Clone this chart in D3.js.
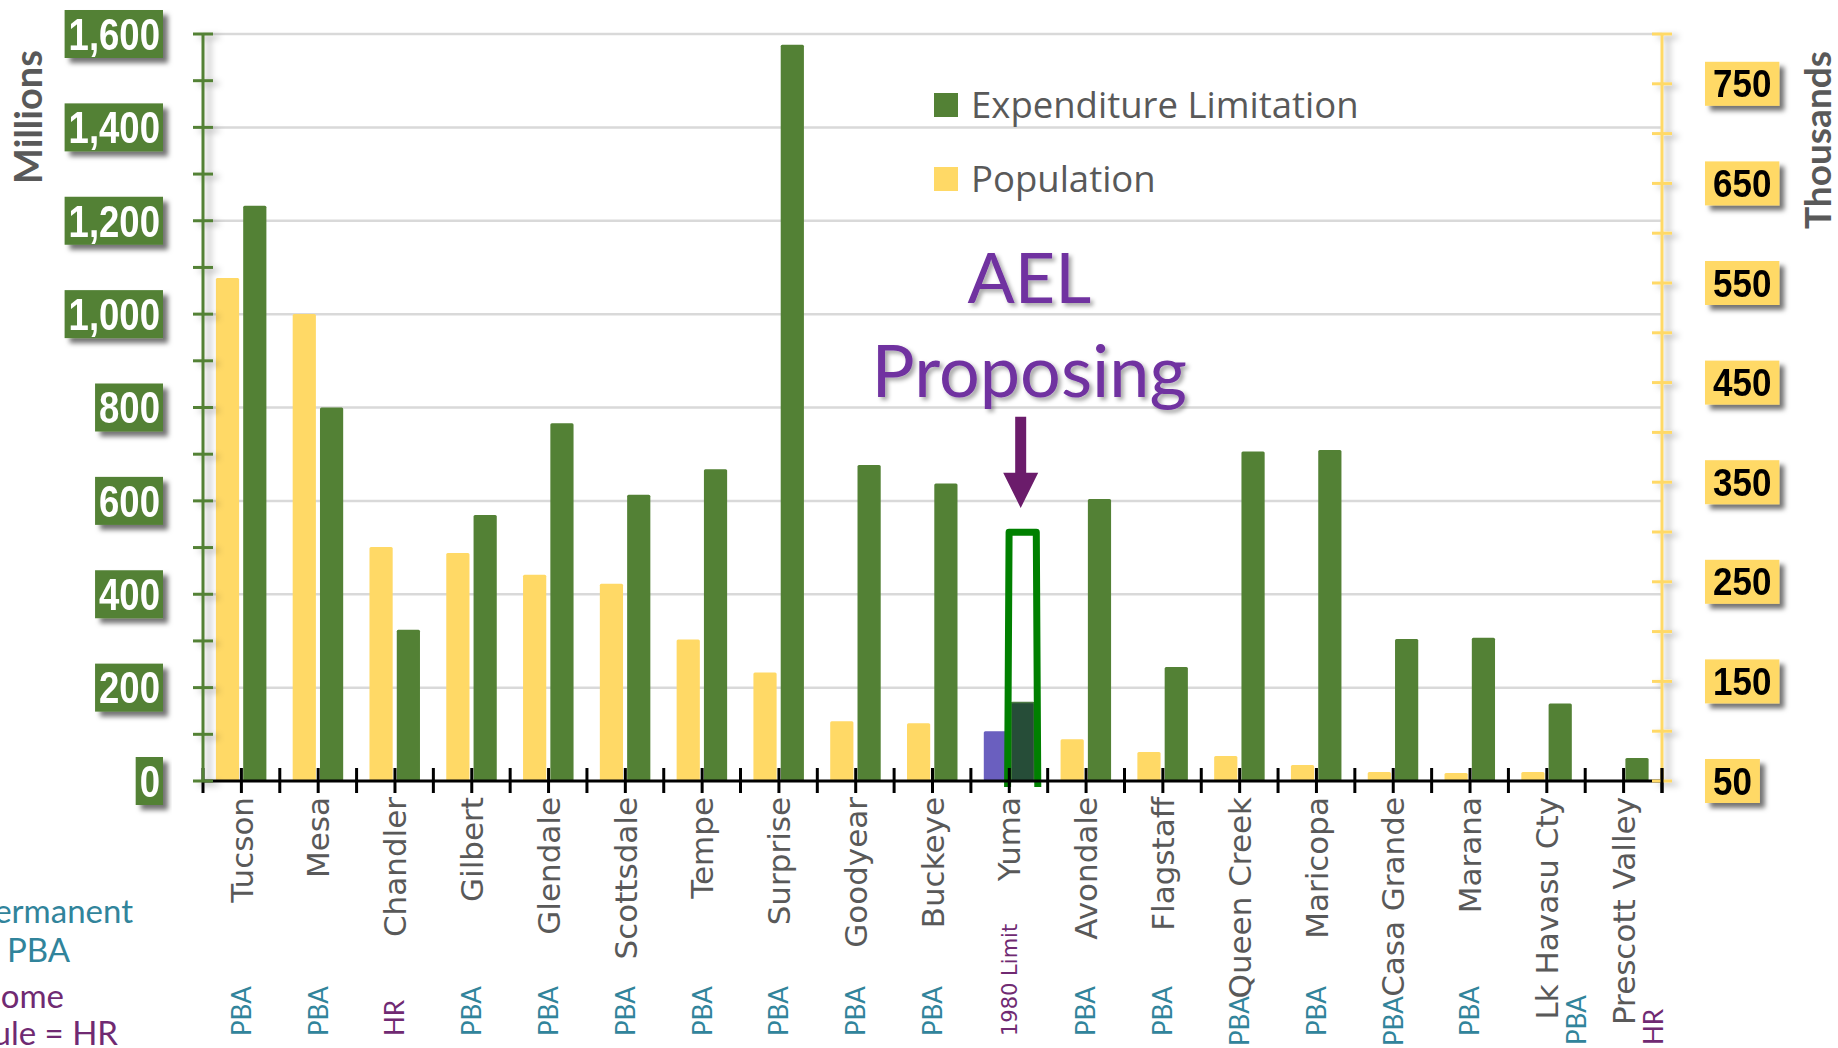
<!DOCTYPE html>
<html>
<head>
<meta charset="utf-8">
<script src="https://cdn.jsdelivr.net/npm/d3@7"></script>
<style>
  body { margin: 0; background: #fff; }
  svg { display: block; }
</style>
</head>
<body>
<svg id="chart" width="1838" height="1048"></svg>
<script>
'use strict';

// city order as on the chart
var cities = ['Tucson', 'Mesa', 'Chandler', 'Gilbert', 'Glendale', 'Scottsdale', 'Tempe',
  'Surprise', 'Goodyear', 'Buckeye', 'Yuma', 'Avondale', 'Flagstaff', 'Queen Creek',
  'Maricopa', 'Casa Grande', 'Marana', 'Lk Havasu Cty', 'Prescott Valley'];

// expenditure limitation, millions (left axis)
var expenditure = [1232, 800, 324, 570, 766, 613, 668, 1577, 677, 637, 168, 604, 244, 706,
  709, 304, 307, 166, 49];

// population, thousands (right axis)
var population = [555, 519, 285, 279, 257, 248, 192, 159, 110, 108, 100, 92, 79, 75,
  66, 59, 58, 59, 50];

// limit type shown under each city
var limitType = ['PBA', 'PBA', 'HR', 'PBA', 'PBA', 'PBA', 'PBA', 'PBA', 'PBA', 'PBA',
  '1980 Limit', 'PBA', 'PBA', 'PBA', 'PBA', 'PBA', 'PBA', 'PBA', 'HR'];

var proposedCity = 'Yuma';
var proposedLimit = 533;

var leftTicks = [0, 200, 400, 600, 800, 1000, 1200, 1400, 1600];
var rightTicks = [50, 150, 250, 350, 450, 550, 650, 750];

(function() {
  var GREEN = '#538135', YELLOW = '#ffd966', GREY = '#595959',
      TEAL = '#31849b', PURPLE = '#702a72';

  var svg = d3.select('#chart');
  var plotLeft = 203, plotRight = 1662, plotTop = 34, base = 781;

  var x = d3.scaleBand().domain(cities).range([plotLeft, plotRight]);
  var series = d3.scaleBand().domain(['pop', 'exp']).range([-25.5, 25]).paddingInner(0.15);
  var yLeft = d3.scaleLinear().domain([0, 1600]).range([base, plotTop]);
  var yRight = d3.scaleLinear().domain([50, 800]).range([base, plotTop]);

  function center(d) { return x(d) + x.bandwidth() / 2; }

  var defs = svg.append('defs');
  defs.append('filter').attr('id', 'boxShadow').attr('x', '-20%').attr('y', '-20%')
      .attr('width', '150%').attr('height', '160%')
    .append('feDropShadow').attr('dx', 5).attr('dy', 5).attr('stdDeviation', 2.5)
      .attr('flood-color', '#000').attr('flood-opacity', 0.55);
  defs.append('filter').attr('id', 'axisShadow').attr('x', '-50%').attr('y', '-5%')
      .attr('width', '300%').attr('height', '110%')
    .append('feDropShadow').attr('dx', 6).attr('dy', 3).attr('stdDeviation', 3)
      .attr('flood-color', '#000').attr('flood-opacity', 0.3);
  defs.append('filter').attr('id', 'textShadow')
    .append('feDropShadow').attr('dx', 3).attr('dy', 3).attr('stdDeviation', 2)
      .attr('flood-color', '#000').attr('flood-opacity', 0.35);

  // gridlines
  svg.append('g').attr('class', 'grid')
    .selectAll('line').data(leftTicks.slice(1))
    .enter().append('line')
      .attr('x1', plotLeft).attr('x2', plotRight)
      .attr('y1', function(d) { return yLeft(d); })
      .attr('y2', function(d) { return yLeft(d); })
      .attr('stroke', '#d9d9d9').attr('stroke-width', 2.5);

  // bars
  var gBars = svg.append('g').attr('class', 'bars');
  gBars.selectAll('rect.pop').data(cities)
    .enter().append('rect').attr('class', 'pop')
      .attr('x', function(d) { return center(d) + series('pop'); })
      .attr('width', series.bandwidth())
      .attr('y', function(d, i) { return yRight(population[i]); })
      .attr('height', function(d, i) { return base - yRight(population[i]); })
      .attr('rx', 1.5)
      .attr('fill', function(d) { return d === proposedCity ? '#6a5fbf' : YELLOW; });

  gBars.selectAll('rect.exp').data(cities)
    .enter().append('rect').attr('class', 'exp')
      .attr('x', function(d) { return center(d) + series('exp'); })
      .attr('width', series.bandwidth())
      .attr('y', function(d, i) { return yLeft(expenditure[i]); })
      .attr('height', function(d, i) { return base - yLeft(expenditure[i]); })
      .attr('rx', 1.5)
      .attr('fill', function(d) { return d === proposedCity ? '#264d38' : GREEN; })
      .attr('stroke', function(d) { return d === proposedCity ? '#4d7a45' : 'none'; })
      .attr('stroke-width', 1.5);

  // proposed limit outline around Yuma
  var px0 = center(proposedCity) + series('exp') - 3.5,
      px1 = center(proposedCity) + series('exp') + series.bandwidth() + 3.5,
      pTop = yLeft(proposedLimit);
  svg.append('path')
    .attr('d', 'M' + px0 + ',' + (base + 6) + 'L' + (px0 + 1.5) + ',' + pTop +
               'L' + (px1 - 1.5) + ',' + pTop + 'L' + px1 + ',' + (base + 6))
    .attr('fill', 'none').attr('stroke', '#008000').attr('stroke-width', 7)
    .attr('stroke-linejoin', 'round');

  // x axis with ticks at edges and centers of each band
  var xTicks = [];
  cities.forEach(function(c) { xTicks.push(x(c), center(c)); });
  xTicks.push(plotRight);
  var gX = svg.append('g').attr('class', 'x-axis');
  gX.append('line').attr('x1', plotLeft).attr('x2', plotRight).attr('y1', base).attr('y2', base)
    .attr('stroke', '#000').attr('stroke-width', 3);
  gX.selectAll('line.tick').data(xTicks)
    .enter().append('line').attr('class', 'tick')
      .attr('x1', function(d) { return d; }).attr('x2', function(d) { return d; })
      .attr('y1', base - 13).attr('y2', base + 12)
      .attr('stroke', '#000').attr('stroke-width', 3);

  // left axis
  var gL = svg.append('g').attr('filter', 'url(#axisShadow)');
  gL.append('line').attr('x1', plotLeft).attr('x2', plotLeft).attr('y1', plotTop).attr('y2', base)
    .attr('stroke', GREEN).attr('stroke-width', 3);
  gL.selectAll('line.tick').data(d3.range(0, 1601, 100))
    .enter().append('line').attr('class', 'tick')
      .attr('x1', plotLeft - 10).attr('x2', plotLeft + 10)
      .attr('y1', function(d) { return yLeft(d); })
      .attr('y2', function(d) { return yLeft(d); })
      .attr('stroke', GREEN).attr('stroke-width', 3);

  // right axis
  var gR = svg.append('g').attr('filter', 'url(#axisShadow)');
  gR.append('line').attr('x1', plotRight).attr('x2', plotRight).attr('y1', plotTop).attr('y2', base)
    .attr('stroke', YELLOW).attr('stroke-width', 3);
  gR.selectAll('line.tick').data(d3.range(50, 801, 50))
    .enter().append('line').attr('class', 'tick')
      .attr('x1', plotRight - 10).attr('x2', plotRight + 10)
      .attr('y1', function(d) { return yRight(d); })
      .attr('y2', function(d) { return yRight(d); })
      .attr('stroke', YELLOW).attr('stroke-width', 3);
  svg.append('line').attr('x1', plotRight).attr('x2', plotRight)
    .attr('y1', base - 13).attr('y2', base + 12)
    .attr('stroke', '#000').attr('stroke-width', 3);

  // left tick labels in green boxes
  var fmt = d3.format(',');
  leftTicks.forEach(function(v) {
    var g = svg.append('g').attr('filter', 'url(#boxShadow)');
    var rect = g.append('rect').attr('fill', GREEN);
    var t = g.append('text').text(fmt(v))
      .attr('font-family', 'Liberation Sans, Arial, sans-serif')
      .attr('font-weight', 'bold').attr('font-size', 44).attr('fill', '#fff')
      .attr('text-anchor', 'end').attr('y', yLeft(v)).attr('dy', '0.36em');
    var w = t.node().getComputedTextLength() * 0.83;
    t.attr('textLength', w).attr('lengthAdjust', 'spacingAndGlyphs').attr('x', 160);
    rect.attr('x', 160 - w - 4).attr('width', w + 7)
      .attr('y', yLeft(v) - 24).attr('height', 48);
  });

  // right tick labels in yellow boxes
  rightTicks.forEach(function(v) {
    var g = svg.append('g').attr('filter', 'url(#boxShadow)');
    var rect = g.append('rect').attr('fill', YELLOW);
    var t = g.append('text').text(v)
      .attr('font-family', 'Liberation Sans, Arial, sans-serif')
      .attr('font-weight', 'bold').attr('font-size', 38).attr('fill', '#000')
      .attr('x', 1713).attr('y', yRight(v)).attr('dy', '0.36em');
    var w = t.node().getComputedTextLength() * 0.92;
    t.attr('textLength', w).attr('lengthAdjust', 'spacingAndGlyphs');
    rect.attr('x', 1705).attr('width', w + 16)
      .attr('y', yRight(v) - 22).attr('height', 44);
  });

  // axis titles
  svg.append('text').text('Millions')
    .attr('transform', 'translate(42,117) rotate(-90)')
    .attr('text-anchor', 'middle')
    .attr('font-family', 'Lato, sans-serif').attr('font-weight', 'bold')
    .attr('font-size', 38).attr('fill', GREY);
  svg.append('text').text('Thousands')
    .attr('transform', 'translate(1831,140) rotate(-90)')
    .attr('text-anchor', 'middle')
    .attr('font-family', 'Lato, sans-serif').attr('font-weight', 'bold')
    .attr('font-size', 37).attr('fill', GREY);

  // category names and limit type underneath
  var labelTop = 797, labelBottom = 1036;
  cities.forEach(function(c, i) {
    var cx = center(c);
    var name = svg.append('text').text(c)
      .attr('transform', 'translate(' + cx + ',' + labelTop + ') rotate(-90)')
      .attr('text-anchor', 'end').attr('dy', '0.36em')
      .attr('font-family', 'DejaVu Sans, sans-serif').attr('font-size', 31)
      .attr('fill', GREY);
    var nameEnd = labelTop + name.node().getComputedTextLength();

    var isYear = limitType[i] === '1980 Limit';
    var sub = svg.append('text').text(limitType[i])
      .attr('font-family', isYear ? 'DejaVu Sans, sans-serif' : 'Lato, sans-serif')
      .attr('font-size', isYear ? 21 : 26)
      .attr('fill', limitType[i] === 'PBA' ? TEAL : PURPLE)
      .attr('dy', '0.36em');
    var subLen = sub.node().getComputedTextLength();
    var sx = cx, sy = labelBottom;
    if (nameEnd > 1010) {
      sx = cx + 30;
      sy = 1045;
    } else if (nameEnd + 3 + subLen > labelBottom) {
      sy = Math.min(nameEnd + 3 + subLen, 1046);
    }
    sub.attr('transform', 'translate(' + sx + ',' + sy + ') rotate(-90)');
  });

  // legend
  var legend = svg.append('g').attr('class', 'legend');
  [['Expenditure Limitation', GREEN, 105], ['Population', YELLOW, 179]].forEach(function(l) {
    legend.append('rect').attr('x', 934).attr('y', l[2] - 12).attr('width', 24).attr('height', 24)
      .attr('fill', l[1]);
    legend.append('text').text(l[0]).attr('x', 971).attr('y', l[2]).attr('dy', '0.36em')
      .attr('font-family', 'Open Sans, sans-serif').attr('font-size', 36.5).attr('fill', GREY);
  });

  // annotation
  var ax = center(proposedCity) + 20;
  svg.append('text').text('AEL').attr('x', ax).attr('y', 303)
    .attr('text-anchor', 'middle').attr('font-family', 'Lato, sans-serif')
    .attr('font-size', 70).attr('fill', '#7030a0').attr('filter', 'url(#textShadow)');
  svg.append('text').text('Proposing').attr('x', ax).attr('y', 397)
    .attr('text-anchor', 'middle').attr('font-family', 'Lato, sans-serif')
    .attr('font-size', 72).attr('fill', '#7030a0').attr('filter', 'url(#textShadow)');

  var arX = center(proposedCity) + series('exp') + series.bandwidth() / 2 - 2,
      arTop = yLeft(780), arTip = yLeft(585), arNeck = yLeft(660);
  svg.append('path')
    .attr('d', 'M' + (arX - 5.5) + ',' + arTop + 'H' + (arX + 5.5) + 'V' + arNeck +
               'H' + (arX + 17.5) + 'L' + arX + ',' + arTip + 'L' + (arX - 17.5) + ',' + arNeck +
               'H' + (arX - 5.5) + 'Z')
    .attr('fill', '#6b1c6b');

  // side note, partly cut off at the left edge
  var note = svg.append('g').attr('font-family', 'Lato, sans-serif').attr('font-size', 33);
  note.append('text').text('Permanent').attr('x', 133).attr('y', 923)
    .attr('text-anchor', 'end').attr('fill', TEAL);
  note.append('text').text('PBA').attr('x', 7).attr('y', 962).attr('fill', TEAL);
  note.append('text').text('Home').attr('x', 64).attr('y', 1008)
    .attr('text-anchor', 'end').attr('fill', PURPLE);
  note.append('text').text('Rule = HR').attr('x', 118).attr('y', 1045)
    .attr('text-anchor', 'end').attr('fill', PURPLE);
})();
</script>
</body>
</html>
